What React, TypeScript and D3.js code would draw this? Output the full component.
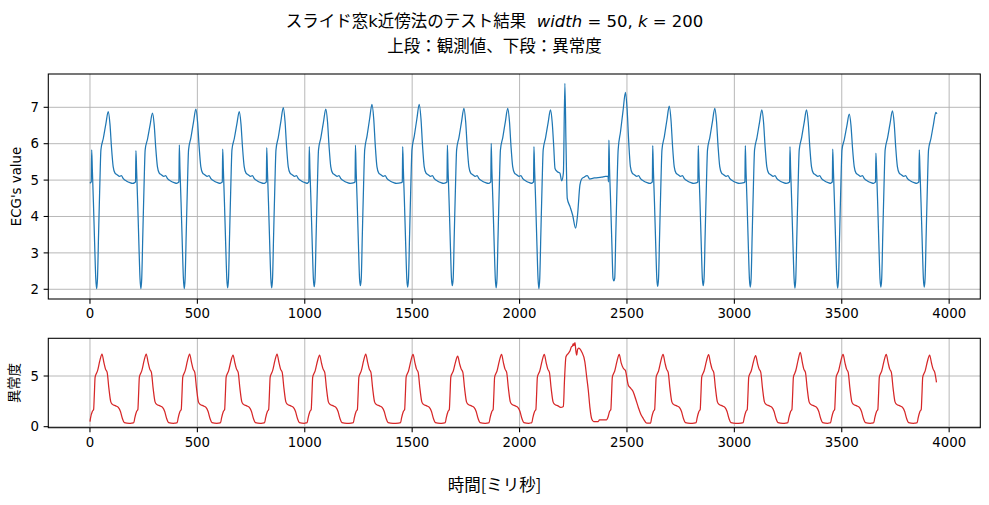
import React from 'react';
import * as d3 from 'd3';

type Pt = [number, number];

// ---------- Data ----------
const xTickValues = [0, 500, 1000, 1500, 2000, 2500, 3000, 3500, 4000];
const ecgYTicks = [2, 3, 4, 5, 6, 7];
const scoreYTicks = [0, 5];

// ECG: beat times (time of the sharp spike) and per-beat key values
const ecgBeatTimes = [8, 214, 416, 618, 823, 1021, 1236, 1456, 1664, 1868, 2067, 2416, 2620, 2832, 3051, 3259, 3458, 3659, 3861];
const ecgSpikeValues = [5.83, 5.81, 5.97, 5.85, 5.89, 5.92, 5.96, 5.92, 5.96, 6.01, 5.92, 6.1, 5.95, 5.95, 5.95, 5.92, 5.85, 5.74, 5.83];
const ecgTroughValues = [2.02, 2.02, 2.02, 2.04, 2.04, 2.07, 2.1, 2.06, 2.1, 2.04, 2.02, 2.23, 2.08, 2.1, 2.06, 2.03, 2.03, 2.06, 2.06];
const ecgPeakValues = [6.88, 6.84, 6.95, 6.88, 6.99, 6.95, 7.08, 7.08, 6.97, 6.97, 6.93, 7.41, 7.03, 6.97, 6.93, 6.93, 6.81, 6.9, 6.86];

// one ECG beat (offset from the spike, value)
const ecgShapeOffsets = [-6, -2, 0, 3, 8, 14, 19, 23, 27, 32, 38, 43, 54, 66, 77, 85, 92, 100, 108, 118, 130, 138, 147, 163, 178, 190];
const ecgShapeValues = [4.93, 4.95, 5.85, 5.3, 4.4, 3.2, 2.3, 2.02, 2.3, 3.5, 4.9, 5.83, 6.15, 6.56, 6.9, 6.56, 5.92, 5.37, 5.2, 5.15, 5.1, 5.12, 5.04, 4.97, 4.93, 4.91];
const ecgPeakWeights = [0, 0, 0, 0, 0, 0, 0, 0, 0, 0, 0, 0, 0.35, 0.7, 1, 0.7, 0.3, 0, 0, 0, 0, 0, 0, 0, 0, 0];
const ECG_SPIKE_IDX = 2;
const ECG_TROUGH_IDX = 7;
const ecgStart: Pt = [0, 4.91];
const ecgEnd: Pt = [3943, 6.82];

// irregular stretch of the ECG
const ecgAnomalyTimes = [2165, 2176, 2188, 2196, 2204, 2211, 2216, 2222, 2235, 2247, 2261, 2270, 2281, 2289, 2300, 2315, 2327, 2340, 2351, 2382, 2400, 2412];
const ecgAnomalyValues = [5.32, 5.23, 5.19, 4.98, 5.2, 7.66, 6.05, 4.5, 4.27, 4.04, 3.68, 4.04, 4.87, 5.03, 5.08, 5.12, 5.03, 5.05, 5.06, 5.08, 5.1, 5.1];
const ecgAnomalyRanges: [number, number][] = [[2163, 2413]];

// Anomaly score
const scorePeakValues = [7.17, 7.17, 7.17, 7.07, 7.17, 7.07, 7.17, 7.14, 6.95, 7.14, 7.14, 7.14, 7.14, 7.1, 7.0, 7.34, 7.14, 7.14, 7.07];
const scoreShapeOffsets = [-20, -10, -5, 3, 9, 12, 16, 22, 27, 38, 48, 57, 64, 72, 80, 89, 97, 112, 124, 134, 143, 152, 175];
const scoreShapeValues = [0.35, 0.4, 0.9, 1.5, 1.7, 3.0, 4.9, 5.25, 5.5, 6.5, 7.15, 6.3, 5.7, 5.35, 3.8, 2.45, 2.2, 2.05, 1.9, 1.5, 0.8, 0.4, 0.33];
const scorePeakWeights = [0, 0, 0, 0, 0, 0, 0, 0, 0.2, 0.5, 1, 0.5, 0, 0, 0, 0, 0, 0, 0, 0, 0, 0, 0];
const scoreStart: Pt = [0, 0.5];
const scoreEnd: Pt = [3941, 4.38];

const scoreAnomalyTimes = [2204, 2209, 2216, 2227, 2235, 2242, 2246, 2250, 2253, 2258, 2262, 2266, 2270, 2275, 2289, 2304, 2312, 2320, 2328, 2336, 2345, 2366, 2372, 2405,
  2483, 2493, 2506, 2517, 2529, 2541, 2553, 2565, 2576, 2592, 2610];
const scoreAnomalyValues = [2.0, 4.5, 6.9, 7.24, 7.5, 7.9, 7.95, 8.2, 8.0, 8.3, 7.5, 7.05, 7.6, 7.75, 7.4, 6.4, 5.0, 3.6, 1.8, 0.75, 0.5, 0.5, 0.66, 0.68,
  5.76, 5.53, 4.11, 3.8, 3.45, 2.7, 1.9, 1.2, 0.8, 0.35, 0.35];
const scoreAnomalyRanges: [number, number][] = [[2198, 2410], [2480, 2612]];

// ---------- assembling ----------
function assemble(
  beatTimes: number[],
  offsets: number[],
  shape: number[],
  valueFor: (beat: number, j: number, base: number) => number,
  extraT: number[],
  extraV: number[],
  drop: [number, number][],
  start: Pt,
  end: Pt
): Pt[] {
  const pts: Pt[] = [];
  beatTimes.forEach((s, i) => {
    offsets.forEach((o, j) => {
      const t = s + o;
      if (t <= start[0] || t >= end[0]) return;
      if (drop.some(([a, b]) => t >= a && t <= b)) return;
      pts.push([t, valueFor(i, j, shape[j])]);
    });
  });
  extraT.forEach((t, k) => pts.push([t, extraV[k]]));
  pts.sort((a, b) => a[0] - b[0]);
  return [start, ...pts, end];
}

const ecgData = assemble(
  ecgBeatTimes, ecgShapeOffsets, ecgShapeValues,
  (i, j, base) => {
    if (j === ECG_SPIKE_IDX) return ecgSpikeValues[i];
    if (j === ECG_TROUGH_IDX) return ecgTroughValues[i];
    return base + (ecgPeakValues[i] - 6.9) * ecgPeakWeights[j];
  },
  ecgAnomalyTimes, ecgAnomalyValues, ecgAnomalyRanges, ecgStart, ecgEnd
);

const scoreData = assemble(
  ecgBeatTimes, scoreShapeOffsets, scoreShapeValues,
  (i, j, base) => base + (scorePeakValues[i] - 7.15) * scorePeakWeights[j],
  scoreAnomalyTimes, scoreAnomalyValues, scoreAnomalyRanges, scoreStart, scoreEnd
);

// ---------- layout ----------
const W = 989, H = 505;
const LEFT = 48.3, RIGHT = 980.3;
const TOP1 = 74, BOT1 = 299;
const TOP2 = 338.3, BOT2 = 427.7;
const TICK = 4.67;
const FONT = "'DejaVu Sans', 'Noto Sans CJK JP', sans-serif";
const JFONT = "'Noto Sans CJK JP', 'DejaVu Sans', sans-serif";

function Panel({ yDomain, top, bottom, yTicks, data, color, id, ylabel, ylabelX, labelFont }: any) {
  const x = d3.scaleLinear().domain([-194, 4145]).range([LEFT, RIGHT]);
  const y = d3.scaleLinear().domain(yDomain).range([bottom, top]);
  const line = d3.line<Pt>().x(d => x(d[0])).y(d => y(d[1])).curve(d3.curveMonotoneX);
  const midY = (top + bottom) / 2;
  return (
    <g>
      <defs>
        <clipPath id={id}>
          <rect x={LEFT} y={top} width={RIGHT - LEFT} height={bottom - top} />
        </clipPath>
      </defs>
      {xTickValues.map(v => (
        <line key={'gx' + v} x1={x(v)} x2={x(v)} y1={top} y2={bottom} stroke="#b0b0b0" strokeWidth={0.9} />
      ))}
      {yTicks.map((v: number) => (
        <line key={'gy' + v} x1={LEFT} x2={RIGHT} y1={y(v)} y2={y(v)} stroke="#b0b0b0" strokeWidth={0.9} />
      ))}
      <path d={line(data) || ''} fill="none" stroke={color} strokeWidth={1.25} clipPath={`url(#${id})`} strokeLinejoin="round" />
      <rect x={LEFT} y={top} width={RIGHT - LEFT} height={bottom - top} fill="none" stroke="#000" strokeWidth={1.07} />
      {xTickValues.map(v => (
        <g key={'tx' + v}>
          <line x1={x(v)} x2={x(v)} y1={bottom} y2={bottom + TICK} stroke="#000" strokeWidth={1.07} />
          <text x={x(v)} y={bottom + 19.3} textAnchor="middle" fontSize={13.33} fontFamily={FONT} fill="#000">{v}</text>
        </g>
      ))}
      {yTicks.map((v: number) => (
        <g key={'ty' + v}>
          <line x1={LEFT - TICK} x2={LEFT} y1={y(v)} y2={y(v)} stroke="#000" strokeWidth={1.07} />
          <text x={LEFT - TICK - 4.67} y={y(v) + 4.8} textAnchor="end" fontSize={13.33} fontFamily={FONT} fill="#000">{v}</text>
        </g>
      ))}
      <text transform={`translate(${ylabelX},${midY}) rotate(-90)`} textAnchor="middle" fontSize={13.33} fontFamily={labelFont} fill="#000">{ylabel}</text>
    </g>
  );
}

export default function App() {
  return (
    <svg width={W} height={H} viewBox={`0 0 ${W} ${H}`} style={{ position: 'absolute', left: 0, top: 0, background: '#fff' }}>
      <rect x={0} y={0} width={W} height={H} fill="#fff" />
      <text x={494.5} y={27} textAnchor="middle" fontSize={16.5} fontFamily={JFONT} fill="#000">
        スライド窓<tspan fontFamily={FONT}>k</tspan>近傍法のテスト結果
        <tspan fontFamily={FONT} xmlSpace="preserve">{'  '}</tspan>
        <tspan fontFamily={FONT} fontStyle="italic">width</tspan>
        <tspan fontFamily={FONT}>{' = 50, '}</tspan>
        <tspan fontFamily={FONT} fontStyle="italic">k</tspan>
        <tspan fontFamily={FONT}>{' = 200'}</tspan>
      </text>
      <text x={494.5} y={52} textAnchor="middle" fontSize={16.5} fontFamily={JFONT} fill="#000">上段：観測値、下段：異常度</text>
      <Panel id="c1" yDomain={[1.733, 7.915]} top={TOP1} bottom={BOT1} yTicks={ecgYTicks} data={ecgData} color="#1f77b4" ylabel="ECG's value" ylabelX={21} labelFont={FONT} />
      <Panel id="c2" yDomain={[-0.1, 8.72]} top={TOP2} bottom={BOT2} yTicks={scoreYTicks} data={scoreData} color="#d62728" ylabel="異常度" ylabelX={19} labelFont={JFONT} />
      <text x={494.5} y={491} textAnchor="middle" fontSize={16.5} fontFamily={JFONT} fill="#000">時間[ミリ秒]</text>
    </svg>
  );
}
